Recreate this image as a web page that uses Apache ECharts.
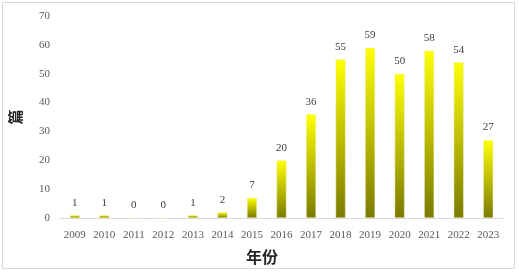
<!DOCTYPE html>
<html>
<head>
<meta charset="utf-8">
<script src="https://cdn.jsdelivr.net/npm/echarts@6/dist/echarts.min.js"></script>
<style>
  html, body { margin: 0; padding: 0; background: #fff; }
  #main { width: 519px; height: 272px; }
</style>
</head>
<body>
<div id="main"></div>
<script>
var years = ['2009', '2010', '2011', '2012', '2013', '2014', '2015', '2016',
  '2017', '2018', '2019', '2020', '2021', '2022', '2023'];
var counts = [1, 1, 0, 0, 1, 2, 7, 20, 36, 55, 59, 50, 58, 54, 27];
var yTicks = [0, 10, 20, 30, 40, 50, 60, 70];

var serif = '"Liberation Serif", "DejaVu Serif", serif';
var cjk = '"Noto Sans CJK SC", sans-serif';

var chart = echarts.init(document.getElementById('main'));
chart.setOption({
  animation: false,
  grid: { left: 55, right: 16, top: 16, bottom: 54, containLabel: false },
  graphic: [
    {
      type: 'rect',
      shape: { x: 2.5, y: 2.5, width: 512, height: 266 },
      style: { fill: 'none', stroke: '#d9d9d9', lineWidth: 1 },
      z: -1
    },
    {
      type: 'text',
      left: 246,
      top: 249,
      style: { text: '年份', font: 'bold 16px ' + cjk, fill: '#262626' }
    }
  ],
  xAxis: {
    type: 'category',
    data: years,
    axisLine: { lineStyle: { color: '#d9d9d9' } },
    axisTick: { show: false },
    axisLabel: { color: '#595959', fontFamily: serif, fontSize: 11, margin: 12 }
  },
  yAxis: {
    type: 'value',
    min: yTicks[0],
    max: yTicks[yTicks.length - 1],
    interval: 10,
    name: '篇',
    nameLocation: 'middle',
    nameGap: 37,
    nameTextStyle: { fontFamily: cjk, fontSize: 15, fontWeight: 'bold', color: '#262626' },
    axisLine: { show: false },
    axisTick: { show: false },
    splitLine: { show: false },
    axisLabel: { color: '#595959', fontFamily: serif, fontSize: 11, margin: 10 }
  },
  series: [{
    type: 'bar',
    data: counts,
    barWidth: 10,
    itemStyle: {
      color: new echarts.graphic.LinearGradient(0, 0, 0, 1, [
        { offset: 0, color: '#ffff00' },
        { offset: 1, color: '#7a7a00' }
      ]),
      borderColor: '#f2f2c8',
      borderWidth: 0.5
    },
    label: {
      show: true,
      position: 'top',
      distance: 7,
      color: '#404040',
      fontFamily: serif,
      fontSize: 11
    }
  }]
});
</script>
</body>
</html>
